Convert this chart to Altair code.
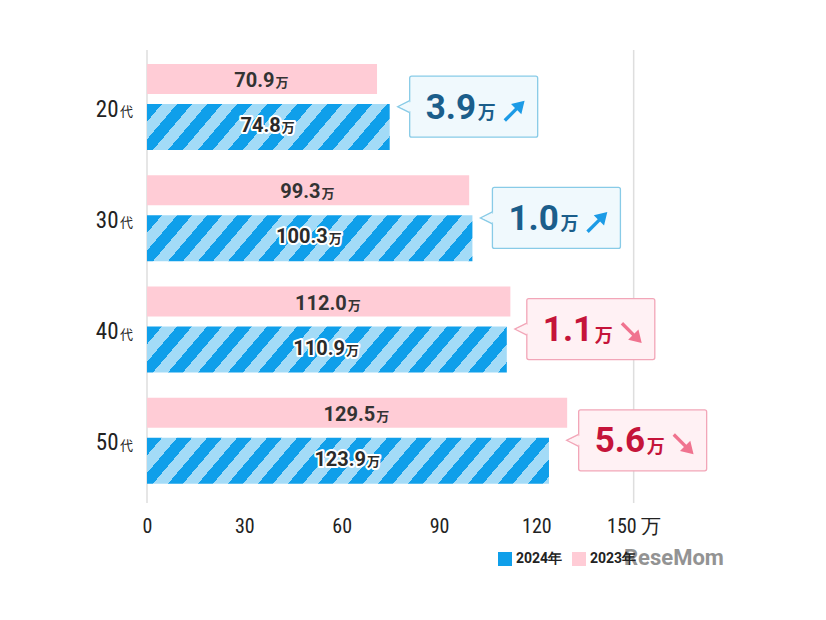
import altair as alt
import pandas as pd

# ---- data ----
ages = ["20代", "30代", "40代", "50代"]
age_nums = ["20", "30", "40", "50"]
v2023 = [70.9, 99.3, 112.0, 129.5]
v2024 = [74.8, 100.3, 110.9, 123.9]
x_ticks = [0, 30, 60, 90, 120, 150]
grid_vals = [0, 150]
years = ["2024年", "2023年"]

# ---- style ----
W, H = 584, 453
XMAX = 180
PX = W / XMAX
DARK = "#0f9fea"
LIGHT = "#a3dbf7"
PINK = "#ffccd6"
NARROW = "Liberation Sans Narrow, Roboto Condensed, Roboto, sans-serif"
BOLD = "Roboto, sans-serif"
CJK = "Noto Sans CJK JP"
TXT = "#333333"
PINK_OFF, PINK_H = -30.6, 30
BLUE_OFF, BLUE_H = 17.4, 46


def stripe_fill(w, h=BLUE_H, s=0.85, period=30.0):
    L = w + s * h
    k = L / (w * w + s * s * h * h)
    stops = []
    pos, i = 0.0, 0
    while pos < L - 1e-9:
        c = DARK if i % 2 == 0 else LIGHT
        end = min(pos + period / 2, L)
        stops.append({"offset": pos / L, "color": c})
        stops.append({"offset": end / L, "color": c})
        pos, i = end, i + 1
    return {"gradient": "linear", "x1": 0, "y1": 0, "x2": k * w, "y2": k * s * h, "stops": stops}


rows = []
for a, n, p, b in zip(ages, age_nums, v2023, v2024):
    for yr, v in (("2023年", p), ("2024年", b)):
        t = f"{v:.1f}"
        numw = sum(5.4 if ch == "." else 11.2 for ch in t)
        rows.append({"age": a, "num": n, "year": yr, "value": v, "txt": t,
                     "xnum": v / 2 + ((numw - 14) / 2) / PX})
bars = pd.DataFrame(rows)

call = pd.DataFrame({
    "age": ages,
    "anchor": [max(b + 20 / PX, p + 11.5 / PX) for p, b in zip(v2023, v2024)],
    "diff": [f"{abs(b - p):.1f}" for p, b in zip(v2023, v2024)],
    "dir": ["up" if b >= p else "down" for p, b in zip(v2023, v2024)],
})

Y = alt.Y("age:N", sort=ages, title=None,
          scale=alt.Scale(paddingInner=0, paddingOuter=0.036),
          axis=alt.Axis(domain=False, ticks=False, grid=False,
                        labelExpr="substring(datum.label, 0, 2)",
                        labelFont=NARROW, labelFontSize=23, labelColor="#222",
                        labelPadding=29))
XSCALE = alt.Scale(domain=[0, XMAX], nice=False, zero=True)
XAXIS = alt.Axis(values=x_ticks, title=None, domain=False, ticks=False, grid=False,
                 labelFlush=False,
                 labelExpr="datum.value == 150 ? '150 万' : datum.label",
                 labelFont=NARROW, labelFontSize=20, labelColor="#222", labelPadding=13)


def X(field):
    return alt.X(f"{field}:Q", scale=XSCALE, axis=XAXIS)


base = alt.Chart(bars)

rules = alt.Chart(pd.DataFrame({"v": grid_vals})).mark_rule(
    color="#dedede", strokeWidth=1.5).encode(x=X("v"), y=alt.value(0), y2=alt.value(H))

pink = base.transform_filter("datum.year == '2023年'").mark_bar(
    height=PINK_H, yOffset=PINK_OFF).encode(
    x=X("value"), y=Y,
    color=alt.Color("year:N", scale=alt.Scale(domain=years, range=[DARK, PINK]),
                    legend=alt.Legend(orient="none", legendX=351, legendY=502,
                                      direction="horizontal", title=None,
                                      symbolType="square", symbolSize=196,
                                      symbolStrokeWidth=0, labelFont=BOLD,
                                      labelFontSize=14, labelFontWeight="bold",
                                      labelColor="#222", labelOffset=4,
                                      columnPadding=9, padding=0)))

blue_layers = []
for a, b in zip(ages, v2024):
    blue_layers.append(
        base.transform_filter(f"datum.year == '2024年' && datum.age == '{a}'").mark_bar(
            height=BLUE_H, yOffset=BLUE_OFF, fill=stripe_fill(b * PX)).encode(
            x=X("value"), y=Y))

lab_pink_num = base.transform_filter("datum.year == '2023年'").mark_text(
    align="right", baseline="alphabetic", font=BOLD, fontSize=20, fontWeight="bold",
    color=TXT, dy=PINK_OFF + 8).encode(x=X("xnum"), y=Y, text="txt:N")
lab_pink_man = base.transform_filter("datum.year == '2023年'").mark_text(
    align="left", baseline="alphabetic", font=CJK, fontSize=13, fontWeight="bold",
    color=TXT, dx=1, dy=PINK_OFF + 8).encode(x=X("xnum"), y=Y, text=alt.value("万"))

lab_blue_halo = base.transform_filter("datum.year == '2024年'").mark_text(
    align="right", baseline="alphabetic", font=BOLD, fontSize=20, fontWeight="bold",
    color="white", stroke="white", strokeWidth=4, strokeJoin="round",
    dy=BLUE_OFF + 5).encode(x=X("xnum"), y=Y, text="txt:N")
lab_blue_halo2 = base.transform_filter("datum.year == '2024年'").mark_text(
    align="left", baseline="alphabetic", font=CJK, fontSize=13, fontWeight="bold",
    color="white", stroke="white", strokeWidth=4, strokeJoin="round",
    dx=1, dy=BLUE_OFF + 5).encode(x=X("xnum"), y=Y, text=alt.value("万"))
lab_blue_num = base.transform_filter("datum.year == '2024年'").mark_text(
    align="right", baseline="alphabetic", font=BOLD, fontSize=20, fontWeight="bold",
    color="#2a2a2a", dy=BLUE_OFF + 5).encode(x=X("xnum"), y=Y, text="txt:N")
lab_blue_man = base.transform_filter("datum.year == '2024年'").mark_text(
    align="left", baseline="alphabetic", font=CJK, fontSize=13, fontWeight="bold",
    color="#2a2a2a", dx=1, dy=BLUE_OFF + 5).encode(x=X("xnum"), y=Y, text=alt.value("万"))

dai = alt.Chart(pd.DataFrame({"age": ages})).mark_text(
    align="right", baseline="alphabetic", font=CJK, fontSize=13, color="#222",
    dy=6.5).encode(x=alt.value(-14), y=Y, text=alt.value("代"))

# ---- callouts ----
UP = alt.datum.dir == "up"
cbase = alt.Chart(call)
box_fill = alt.condition(UP, alt.value("#f0f9fd"), alt.value("#fff1f4"))
box_stroke = alt.condition(UP, alt.value("#88cbe7"), alt.value("#f2a6b8"))
TRI = "M0,-0.5L-1,0L0,0.5"
COVER = "M0.2,-0.42L-0.85,0L0.2,0.42Z"
ARROW = "M-1,-0.12L0.15,-0.12L0.15,-0.52L1,0L0.15,0.52L0.15,0.12L-1,0.12Z"

box = cbase.mark_bar(height=61, yOffset=-3, x2Offset=128, cornerRadius=2,
                     strokeWidth=1.3).encode(
    x=X("anchor"), x2="anchor:Q", y=Y, fill=box_fill, stroke=box_stroke)
tri = cbase.mark_point(shape=TRI, size=576, filled=True, opacity=1, strokeWidth=1.3,
                       yOffset=-3).encode(x=X("anchor"), y=Y, fill=box_fill, stroke=box_stroke)
cover = cbase.mark_point(shape=COVER, size=576, filled=True, opacity=1, strokeWidth=0,
                         yOffset=-3).encode(x=X("anchor"), y=Y, fill=box_fill)
cnum = cbase.mark_text(align="left", baseline="alphabetic", font=BOLD, fontSize=35,
                       fontWeight="bold", dx=16, dy=9).encode(
    x=X("anchor"), y=Y, text="diff:N",
    color=alt.condition(UP, alt.value("#1b5e8b"), alt.value("#c5143a")))
cman = cbase.mark_text(align="left", baseline="alphabetic", font=CJK, fontSize=18,
                       fontWeight="bold", dx=68, dy=9.5).encode(
    x=X("anchor"), y=Y, text=alt.value("万"),
    color=alt.condition(UP, alt.value("#1b5e8b"), alt.value("#c5143a")))
arrow = cbase.mark_point(shape=ARROW, size=784, filled=True, opacity=1, strokeWidth=0,
                         xOffset=105, yOffset=1).encode(
    x=X("anchor"), y=Y,
    fill=alt.condition(UP, alt.value("#1c9be6"), alt.value("#f0738f")),
    angle=alt.condition(UP, alt.value(315), alt.value(45)))

logo = alt.Chart(pd.DataFrame({"t": ["ReseMom"]})).mark_text(
    align="left", baseline="alphabetic", font="Roboto, sans-serif",
    fontSize=22, fontWeight="bold", color="#8e8e8e", opacity=0.95).encode(
    x=alt.value(477), y=alt.value(515), text="t:N")

chart = alt.layer(
    rules, pink, *blue_layers,
    lab_pink_num, lab_pink_man, lab_blue_halo, lab_blue_halo2, lab_blue_num, lab_blue_man,
    dai, box, tri, cover, cnum, cman, arrow, logo
).properties(
    width=W, height=H,
    padding={"left": 139, "top": 42, "right": 60, "bottom": 80},
    autosize=alt.AutoSizeParams(type="none"),
    background="white",
).configure_view(strokeWidth=0)

chart.save("out.html", embed_options={"renderer": "svg", "actions": False})
